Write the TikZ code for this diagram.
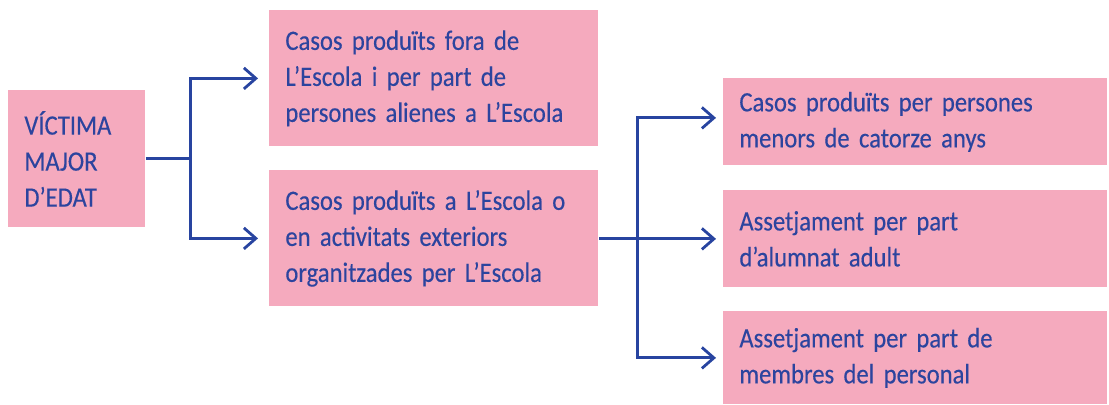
\documentclass[tikz,border=0pt]{standalone}
\usepackage{fontspec}
\setmainfont{Carlito}[FakeStretch=0.88,WordSpace=0.7,FakeBold=0.3]
\usetikzlibrary{arrows.meta}
\definecolor{boxpink}{RGB}{245,170,190}
\definecolor{textblue}{RGB}{44,68,158}
\definecolor{lineblue}{RGB}{40,68,160}

\begin{document}
\begin{tikzpicture}[x=0.5pt,y=-0.5pt,
  box/.style={fill=boxpink, text=textblue, anchor=north west, align=left,
    inner xsep=8pt, inner ysep=0pt, font=\fontsize{14}{18}\selectfont},
  wire/.style={draw=lineblue, line width=1.4pt},
  link/.style={wire, -{Straight Barb[length=6pt,width=10.5pt,line width=1.4pt]}}
]
\useasboundingbox (0,0) rectangle (1109,405);

% left column
\node[box, text width=52.5pt, minimum height=68.5pt] (victima) at (8,90)
  {VÍCTIMA\\MAJOR\\D’EDAT};

% middle column
\node[box, text width=148.5pt, minimum height=68pt] (fora) at (269,10)
  {Casos produïts fora de\\L’Escola i per part de\\persones alienes a L’Escola};
\node[box, text width=148.5pt, minimum height=68pt] (escola) at (269,170)
  {\makebox[138pt][s]{Casos produïts a L’Escola o}\\
   \makebox[138pt][s]{en activitats exteriors}\\
   organitzades per L’Escola};

% right column
\node[box, text width=176pt, minimum height=43.5pt] (menors) at (723,78)
  {Casos produïts per persones\\menors de catorze anys};
\node[box, text width=176pt, minimum height=48.5pt] (alumnat) at (723,190)
  {Assetjament per part\\d’alumnat adult};
\node[box, text width=176pt, minimum height=46.5pt] (personal) at (723,311)
  {Assetjament per part de\\membres del personal};

% connectors
\draw[wire] (victima.east) -- ++(45,0) coordinate (fork1);
\draw[link, shorten >=5.5pt] (fork1) |- (fora.west);
\draw[link, shorten >=5.5pt] (fork1) |- (escola.west);

\draw[wire] (escola.east) -- ++(39,0) coordinate (fork2);
\draw[link, shorten >=3.5pt] (fork2) |- ([yshift=2pt]menors.west);
\draw[link, shorten >=3.5pt] (fork2) |- (alumnat.west);
\draw[link, shorten >=3.5pt] (fork2) |- (personal.west);
\end{tikzpicture}
\end{document}
